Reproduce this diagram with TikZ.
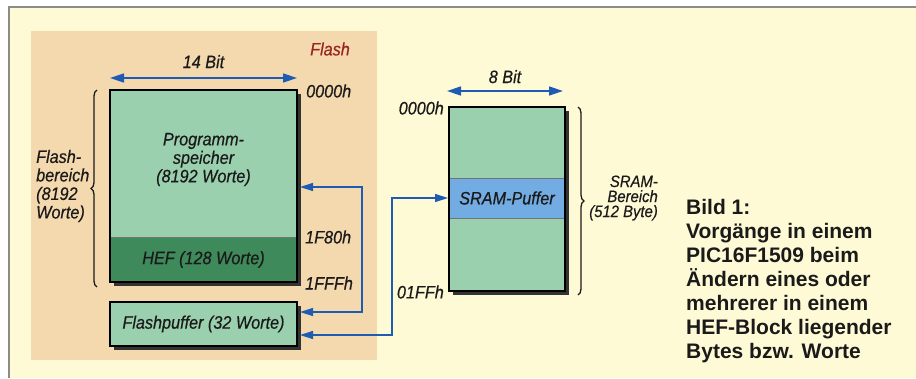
\documentclass[tikz,border=0pt]{standalone}
\usepackage{fontspec}
\setsansfont{Liberation Sans}
\newfontfamily\lblfont[FakeStretch=0.9,FakeBold=0.5]{Liberation Sans}
\usepackage{tikz}
\usetikzlibrary{calc,positioning,arrows.meta,decorations.pathreplacing,backgrounds}
\usepackage{xcolor}
\definecolor{pgPaper}{HTML}{FEFAD6}
\definecolor{pgFrame}{HTML}{8C8C86}
\definecolor{flTan}{HTML}{F5D9AE}
\definecolor{cellGreen}{HTML}{9AD0AE}
\definecolor{hefGreen}{HTML}{3F8A5A}
\definecolor{bufBlue}{HTML}{72ACE2}
\definecolor{arrBlue}{HTML}{1E5CB4}
\definecolor{flRed}{HTML}{9A2424}
\definecolor{pgInk}{HTML}{1A1A1A}
\tikzset{
  cell/.style      = {inner sep=0, outer sep=0, fill=cellGreen, minimum width=116pt,
                      font=\lblfont\itshape\fontsize{18}{18.5}\selectfont, text=pgInk},
  rim/.style       = {draw=black, line width=1.7pt},
  shade/.style     = {fill=black!80},
  divide/.style    = {line width=0.6pt, color=black!55},
  dim/.style       = {line width=1.5pt, color=arrBlue,
                      {Triangle[length=14pt,width=9pt]}-{Triangle[length=14pt,width=9pt]}},
  link/.style      = {line width=1.4pt, color=arrBlue,
                      {Triangle[length=13pt,width=8pt]}-{Triangle[length=13pt,width=8pt]}},
  brc/.style       = {decorate, decoration={brace, amplitude=6pt}, line width=1.3pt,
                      color=pgInk},
  lbl/.style       = {font=\lblfont\itshape\fontsize{18}{18.5}\selectfont, text=pgInk,
                      inner sep=0},
  small/.style     = {font=\lblfont\itshape\fontsize{16.5}{15}\selectfont, text=pgInk,
                      inner sep=0},
  capt/.style      = {font=\sffamily\bfseries\fontsize{21}{24}\selectfont, text=pgInk,
                      inner sep=0},
}

\begin{document}
\begin{tikzpicture}[x=1pt, y=-1pt, line cap=butt]

\useasboundingbox (0,0) rectangle (916,378);

% --- paper, frame and flash area ---
\begin{scope}[on background layer]
  \fill[white] (0,0) rectangle (916,378);
  \fill[pgPaper] (9,7) rectangle (916,378);
  \draw[pgFrame, line width=1.2pt] (916,7) -- (9,7) -- (9,378);
  \fill[flTan] (31,31) rectangle (377,360);
\end{scope}

\node[lbl, text=flRed] (flash) at (330,49) {Flash};

% --- flash memory ---
\node[cell, minimum width=187pt, minimum height=147pt] (prog) at (203.5,163.5) {};
\node[cell, fill=hefGreen, minimum width=187pt, minimum height=45pt, below=0pt of prog]
  (hef) {HEF (128 Worte)};
\node[cell, minimum width=187pt, minimum height=44pt] (fbuf) at (203.5,324)
  {Flashpuffer (32 Worte)};
\node[lbl, align=center] (ptext) at ([yshift=4pt]prog.center)
  {Programm-\\speicher\\(8192 Worte)};

% --- SRAM ---
\node[cell, minimum height=71pt] (stop) at (507,142.5) {};
\node[cell, fill=bufBlue, minimum height=40pt, below=0pt of stop] (spuf) {SRAM-Puffer};
\node[cell, minimum height=73pt, below=0pt of spuf] (sbot) {};

% shadows behind the blocks
\begin{scope}[on background layer]
  \fill[shade] ([shift={(4,4)}]prog.north west) rectangle ([shift={(4,4)}]hef.south east);
  \fill[shade] ([shift={(4,4)}]fbuf.north west) rectangle ([shift={(4,4)}]fbuf.south east);
  \fill[shade] ([shift={(4,4)}]stop.north west) rectangle ([shift={(4,4)}]sbot.south east);
\end{scope}

% borders and dividers
\draw[divide] (hef.north west) -- (hef.north east);
\draw[divide] (spuf.north west) -- (spuf.north east);
\draw[divide] (spuf.south west) -- (spuf.south east);
\draw[rim] (prog.north west) rectangle (hef.south east);
\draw[rim] (fbuf.north west) rectangle (fbuf.south east);
\draw[rim] (stop.north west) rectangle (sbot.south east);

% --- widths ---
\draw[dim] ([yshift=12pt]prog.north west) -- ([yshift=12pt]prog.north east)
  node[lbl, midway, above=9pt] (wflash) {14 Bit};
\draw[dim] ([xshift=-2pt,yshift=16pt]stop.north west) -- ([xshift=-2pt,yshift=16pt]stop.north east)
  node[lbl, midway, above=7pt] (wsram) {8 Bit};

% --- addresses ---
\node[lbl, anchor=west] (a0) at ([xshift=9pt,yshift=-1pt]prog.north east) {0000h};
\node[lbl, anchor=west] (a1) at ([xshift=8pt]hef.north east) {1F80h};
\node[lbl, anchor=west] (a2) at ([xshift=8pt,yshift=-1pt]hef.south east) {1FFFh};
\node[lbl, anchor=east] (s0) at ([xshift=-5pt,yshift=-1pt]stop.north west) {0000h};
\node[lbl, anchor=east] (s1) at ([xshift=-5pt,yshift=-1pt]sbot.south west) {01FFh};

% --- ranges ---
\draw[brc] ([xshift=-13pt,yshift=-5pt]hef.south west) -- ([xshift=-13pt]prog.north west);
\node[lbl, anchor=west, align=left] (frange) at (36,186)
  {Flash-\\bereich\\(8192\\Worte)};
\draw[brc] ([xshift=13pt]stop.north east) -- ([xshift=13pt,yshift=-4pt]sbot.south east);
\node[small, anchor=east, align=right] (srange) at (658,198)
  {SRAM-\\Bereich\\(512 Byte)};

% --- transfers ---
\coordinate (ret) at (362,312);
\coordinate (hop) at (392,198);
\draw[link] ([xshift=3pt,yshift=-23.5pt]prog.east) -| (ret) -- ([xshift=3pt,yshift=12pt]fbuf.east);
\draw[link] ([xshift=3pt,yshift=-11pt]fbuf.east) -| (hop) -- ([xshift=-1pt]spuf.west);

% --- caption ---
\node[capt, anchor=north west, align=left] (caption) at (686,199)
  {Bild 1:\\Vorgänge in einem\\PIC16F1509 beim\\Ändern eines oder\\mehrerer in einem\\HEF-Block liegender\\Bytes bzw. Worte};

\end{tikzpicture}
\end{document}
